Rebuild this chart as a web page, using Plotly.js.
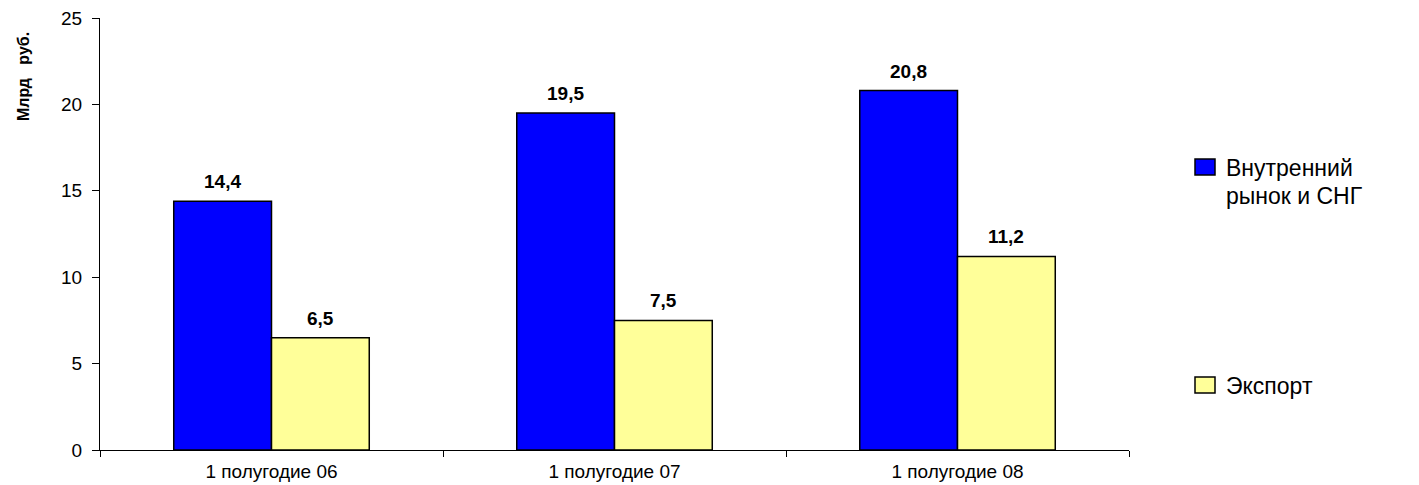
<!DOCTYPE html>
<html><head><meta charset="utf-8">
<script src="https://cdn.plot.ly/plotly-3.0.1.min.js"></script>
<style>html,body{margin:0;padding:0;background:#fff}</style>
</head><body>
<div id="chart" style="width:1419px;height:485px"></div>
<script>
const categories = ["1 полугодие 06", "1 полугодие 07", "1 полугодие 08"];
const domesticValues = [14.4, 19.5, 20.8];
const exportValues = [6.5, 7.5, 11.2];
const seriesNames = ["Внутренний рынок и СНГ", "Экспорт"];
const legendLines = [["Внутренний", "рынок и СНГ"], ["Экспорт"]];
const seriesColors = ['#0000FF', '#FFFF99'];
const yTicks = [0, 5, 10, 15, 20, 25];
const yAxisTitle = "Млрд\u00A0\u00A0\u00A0руб.";

const FONT = 'Liberation Sans, Arial, sans-serif';
const BARGAP = 0.43;
const mL = 100, mR = 290, mT = 18, mB = 35, W = 1419, H = 485;
const plotW = W - mL - mR, plotH = H - mT - mB;
const catPx = plotW / categories.length;
const barPx = catPx * (1 - BARGAP) / 2;

const series = [domesticValues, exportValues];
const data = series.map((vals, i) => ({
  type: 'bar', x: categories, y: vals, name: seriesNames[i],
  marker: {color: seriesColors[i], line: {color: '#000', width: 1.5}},
  hoverinfo: 'skip', showlegend: false
}));

// data labels
const annotations = [];
series.forEach((vals, i) => {
  vals.forEach((v, j) => {
    annotations.push({
      xref: 'x', yref: 'y', x: categories[j], y: v,
      text: '<b>' + v.toFixed(1).replace('.', ',') + '</b>',
      showarrow: false, xanchor: 'center', yanchor: 'bottom',
      xshift: (i === 0 ? -1 : 1) * barPx / 2, yshift: 7,
      font: {family: FONT, size: 19, color: '#000'}
    });
  });
});

// y-axis title
annotations.push({
  text: '<b>' + yAxisTitle + '</b>', textangle: -90, xref: 'paper', yref: 'paper',
  x: (23 - mL) / plotW, y: (H - mB - 77) / plotH, xanchor: 'center', yanchor: 'middle',
  showarrow: false, font: {size: 16, family: FONT, color: '#000'}
});

// legend (manual for symbol size)
const px2x = p => (p - mL) / plotW;
const py2y = p => (H - mB - p) / plotH;
const legendTops = [159, 377];
const shapes = [];
legendLines.forEach((lines, i) => {
  const top = legendTops[i];
  shapes.push({
    type: 'rect', xref: 'paper', yref: 'paper',
    x0: px2x(1195), x1: px2x(1215), y0: py2y(top), y1: py2y(top + 16),
    fillcolor: seriesColors[i], line: {color: '#000', width: 1.5}
  });
  lines.forEach((ln, k) => {
    annotations.push({
      xref: 'paper', yref: 'paper', x: px2x(1224), y: py2y(top + 9 + k * 28),
      text: ln, showarrow: false, xanchor: 'left', yanchor: 'middle',
      font: {size: 23, family: FONT, color: '#000'}
    });
  });
});

const layout = {
  width: W, height: H,
  margin: {l: mL, r: mR, t: mT, b: mB},
  barmode: 'group', bargap: BARGAP, bargroupgap: 0,
  paper_bgcolor: '#fff', plot_bgcolor: '#fff',
  font: {family: FONT, color: '#000', size: 18},
  xaxis: {
    type: 'category', showline: true, linecolor: '#000', linewidth: 1,
    ticks: 'outside', tickson: 'boundaries', ticklen: 6, tickcolor: '#000',
    tickfont: {size: 19}, showgrid: false, zeroline: false, ticklabelstandoff: 4
  },
  yaxis: {
    range: [0, 25], tickvals: yTicks, showline: true, linecolor: '#000', linewidth: 1,
    ticks: 'outside', ticklen: 7, tickcolor: '#000', showgrid: false, zeroline: false,
    tickfont: {size: 19}, ticklabelstandoff: 6
  },
  showlegend: false,
  shapes: shapes,
  annotations: annotations
};
Plotly.newPlot('chart', data, layout, {displayModeBar: false, staticPlot: true});
</script>
</body></html>
